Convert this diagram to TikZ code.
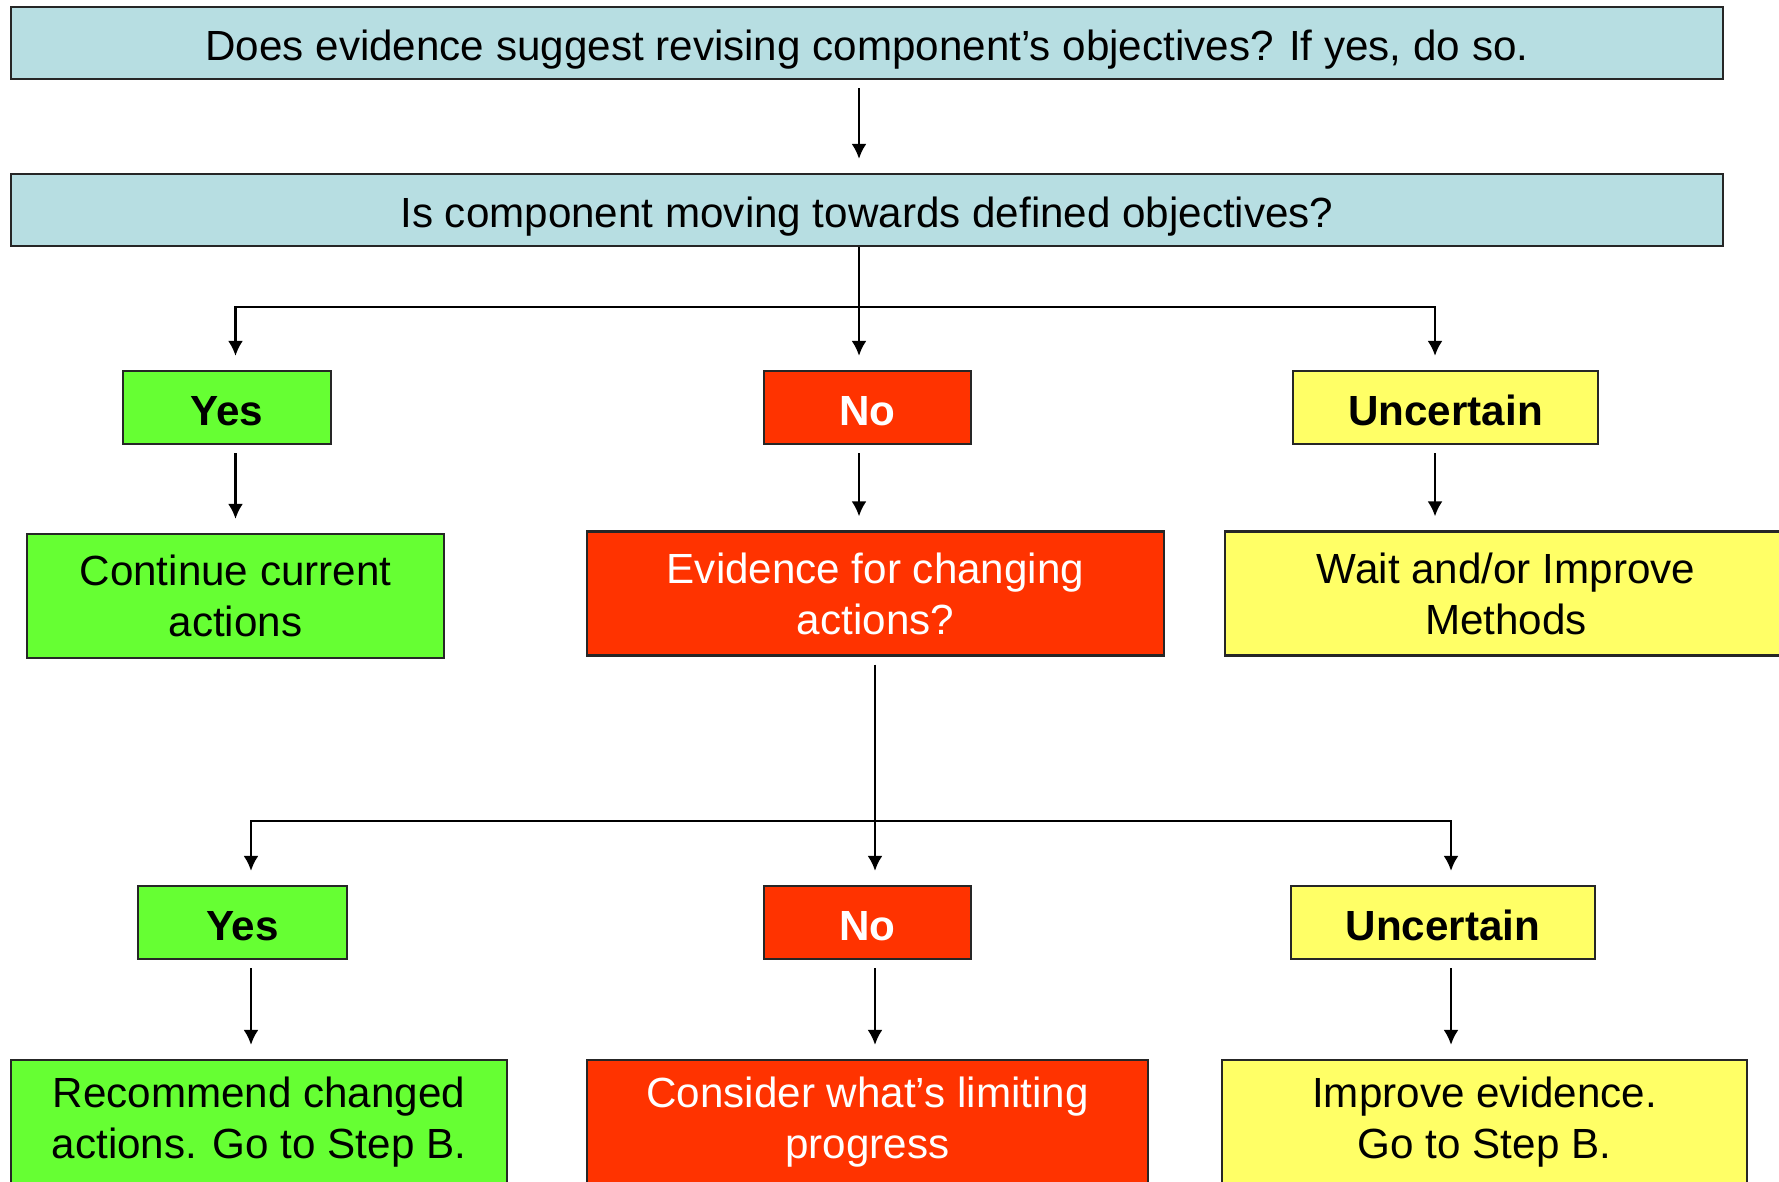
\documentclass[tikz,border=0pt]{standalone}
\usepackage{fontspec}
\setmainfont{Liberation Sans}
\usepackage{tikz}
\usetikzlibrary{arrows.meta}
\definecolor{qblue}{HTML}{B7DEE2}
\definecolor{okgreen}{HTML}{66FF33}
\definecolor{nored}{HTML}{FF3300}
\definecolor{unyellow}{HTML}{FFFF66}

\begin{document}
\begin{tikzpicture}[every node/.style={draw=black!85,line width=0.6pt,inner sep=0pt,align=center,font=\fontsize{12}{14.5}\selectfont},
    qbox/.style={fill=qblue,minimum width=17.12cm,minimum height=0.72cm,text height=10pt,text depth=0pt},
    ansbox/.style={minimum height=0.73cm,text height=10.4pt,text depth=0pt,font=\fontsize{12}{14.5}\selectfont\bfseries},
    actbox/.style={minimum height=1.24cm},
    arr/.style={-{Latex[length=0.15cm,width=0.15cm]},line width=0.8pt,shorten >=0.14cm,shorten <=0.08cm}]
            \useasboundingbox (0, 0) rectangle (17.79, -11.81);
            \draw (8.67, -0.43) node[qbox](q1){Does evidence suggest revising component's objectives? If yes, do so.};
            \draw (8.67, -2.10) node[qbox](q2){Is component moving towards defined objectives?};
            \draw (2.27, -4.075) node[ansbox,fill=okgreen,minimum width=2.08cm](yes1){Yes};
            \draw (8.675, -4.075) node[ansbox,fill=nored,text=white,minimum width=2.07cm](no1){No};
            \draw (14.455, -4.075) node[ansbox,fill=unyellow,minimum width=3.05cm](unc1){Uncertain};
            \draw (2.355, -5.96) node[actbox,fill=okgreen,minimum width=4.17cm](cont){Continue current\\actions};
            \draw (8.755, -5.935) node[actbox,fill=nored,text=white,minimum width=5.77cm](evid){Evidence for changing\\actions?};
            \draw (15.06, -5.935) node[actbox,fill=unyellow,minimum width=5.62cm](wait){Wait and/or Improve\\Methods};
            \draw (2.425, -9.225) node[ansbox,fill=okgreen,minimum width=2.09cm](yes2){Yes};
            \draw (8.675, -9.225) node[ansbox,fill=nored,text=white,minimum width=2.07cm](no2){No};
            \draw (14.43, -9.225) node[ansbox,fill=unyellow,minimum width=3.04cm](unc2){Uncertain};
            \draw (2.59, -11.22) node[actbox,fill=okgreen,minimum width=4.96cm](recom){Recommend changed\\actions. Go to Step B.};
            \draw (8.675, -11.22) node[actbox,fill=nored,text=white,minimum width=5.61cm](limit){Consider what's limiting\\progress};
            \draw (14.845, -11.22) node[actbox,fill=unyellow,minimum width=5.25cm](impr){Improve evidence.\\Go to Step B.};
            % forks and arrow columns
            \coordinate (f1) at (8.59, -3.07);
            \coordinate (f2) at (8.75, -8.21);
            \coordinate (cu1) at (14.35, 0);
            \coordinate (cy2) at (2.51, 0);
            \coordinate (cu2) at (14.51, 0);
            \draw[arr] (q1.south -| f1) -- (q2.north -| f1);
            \draw[line width=0.8pt] (q2.south -| f1) -- (f1);
            \draw[arr,shorten <=0cm] (f1) -| (yes1.north -| cont.north);
            \draw[arr,shorten <=0cm] (f1) -- (no1.north -| f1);
            \draw[arr,shorten <=0cm] (f1) -| (unc1.north -| cu1);
            \draw[arr] (yes1.south -| cont.north) -- (cont.north);
            \draw[arr] (no1.south -| f1) -- (evid.north -| f1);
            \draw[arr] (unc1.south -| cu1) -- (wait.north -| cu1);
            \draw[line width=0.8pt,shorten <=0.08cm] (evid.south -| f2) -- (f2);
            \draw[arr,shorten <=0cm] (f2) -| (yes2.north -| cy2);
            \draw[arr,shorten <=0cm] (f2) -- (no2.north -| f2);
            \draw[arr,shorten <=0cm] (f2) -| (unc2.north -| cu2);
            \draw[arr] (yes2.south -| cy2) -- (recom.north -| cy2);
            \draw[arr] (no2.south -| f2) -- (limit.north -| f2);
            \draw[arr] (unc2.south -| cu2) -- (impr.north -| cu2);
        \end{tikzpicture}
\end{document}
